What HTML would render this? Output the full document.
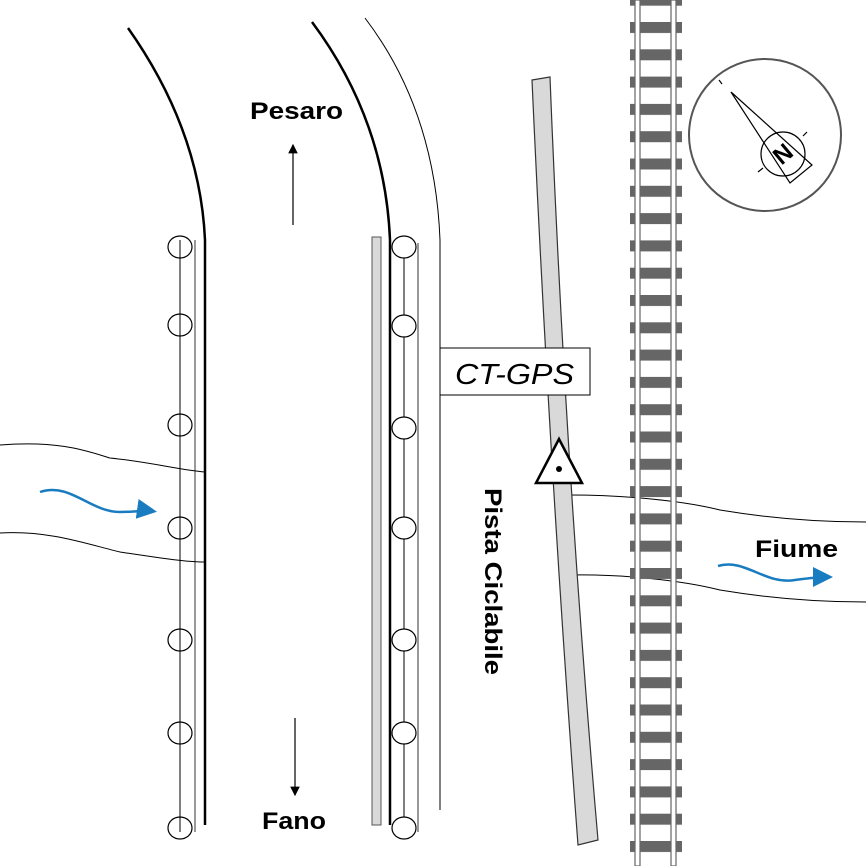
<!DOCTYPE html><html><head><style>body{margin:0;background:#fff}svg{display:block}text{font-family:"Liberation Sans",sans-serif}</style></head><body>
<svg width="866" height="866" viewBox="0 0 866 866" xmlns="http://www.w3.org/2000/svg">
<defs>
<marker id="ah" markerWidth="8" markerHeight="8" refX="7" refY="4" orient="auto"><path d="M0,0 L8,4 L0,8 z" fill="#000"/></marker>
<marker id="bh" markerWidth="8" markerHeight="8" refX="6" refY="4" orient="auto"><path d="M0,0 L8,4 L0,8 z" fill="#1a7cc0"/></marker>
<pattern id="ties" x="0" y="22" width="60" height="27.3" patternUnits="userSpaceOnUse"><rect x="0" y="0" width="60" height="11" fill="#666"/></pattern>
</defs>
<path d="M128,28 Q200,130 205,240 L205,825" fill="none" stroke="#000" stroke-width="2.5"/>
<line x1="180" y1="240" x2="180" y2="832" stroke="#000" stroke-width="1"/>
<line x1="195" y1="240" x2="195" y2="832" stroke="#333" stroke-width="1"/>
<g fill="none" stroke="#000" stroke-width="1.2">
<ellipse cx="180" cy="247" rx="12" ry="11"/><ellipse cx="180" cy="325" rx="12" ry="11"/><ellipse cx="180" cy="425" rx="12" ry="11"/><ellipse cx="180" cy="528" rx="12" ry="11"/><ellipse cx="180" cy="640" rx="12" ry="11"/><ellipse cx="180" cy="733" rx="12" ry="11"/><ellipse cx="180" cy="828" rx="12" ry="11"/>
</g>
<path d="M312,22 Q385,120 390,240 L390,825" fill="none" stroke="#000" stroke-width="2.5"/>
<path d="M365,18 Q435,110 440,240 L440,810" fill="none" stroke="#000" stroke-width="1"/>
<rect x="372" y="237" width="9" height="588" fill="#d9d9d9" stroke="#555" stroke-width="1"/>
<line x1="404" y1="245" x2="404" y2="832" stroke="#000"/>
<line x1="418" y1="243" x2="418" y2="832" stroke="#333"/>
<g fill="#fff" stroke="#000" stroke-width="1.2">
<ellipse cx="404" cy="247" rx="12" ry="11"/><ellipse cx="404" cy="326" rx="12" ry="11"/><ellipse cx="404" cy="428" rx="12" ry="11"/><ellipse cx="404" cy="528" rx="12" ry="11"/><ellipse cx="404" cy="640" rx="12" ry="11"/><ellipse cx="404" cy="733" rx="12" ry="11"/><ellipse cx="404" cy="828" rx="12" ry="11"/>
</g>
<path d="M0,445 C60,440 90,452 110,458 C150,462 180,470 205,472" fill="none" stroke="#000" stroke-width="1"/>
<path d="M0,533 C50,530 90,545 120,552 C160,558 185,562 205,562" fill="none" stroke="#000" stroke-width="1"/>
<path d="M570,495 C620,495 680,500 720,510 C780,520 830,522 866,522" fill="none" stroke="#000" stroke-width="1"/>
<path d="M570,575 C620,574 680,580 720,590 C780,600 830,602 866,602" fill="none" stroke="#000" stroke-width="1"/>
<path d="M40,492 C70,482 90,512 120,512 C135,512 145,510 152,511" fill="none" stroke="#1a7cc0" stroke-width="2.5" marker-end="url(#bh)"/>
<path d="M718,566 C745,558 765,585 795,580 C810,578 820,577 828,577" fill="none" stroke="#1a7cc0" stroke-width="2.5" marker-end="url(#bh)"/>
<path d="M532,80 L550,77 Q565,460 598,840 L578,845 Q549,460 532,80 Z" fill="#d9d9d9" stroke="#333" stroke-width="1.2"/>
<rect x="440" y="348" width="150" height="47" fill="#fff" stroke="#000" stroke-width="1"/>
<text x="455" y="384" font-size="29" font-style="italic" textLength="119" lengthAdjust="spacingAndGlyphs">CT-GPS</text>
<polygon points="559,439 536,483 582,483" fill="#fff" stroke="#000" stroke-width="2.5"/>
<circle cx="559" cy="469" r="3" fill="#000"/>
<rect x="630" y="0" width="52" height="866" fill="url(#ties)"/>
<rect x="635" y="0" width="5" height="866" fill="#fff" stroke="#666" stroke-width="1.2"/>
<rect x="671" y="0" width="5" height="866" fill="#fff" stroke="#666" stroke-width="1.2"/>
<circle cx="765" cy="135" r="76" fill="#fff" stroke="#555" stroke-width="2"/>
<g stroke="#000" stroke-width="1.2" fill="none">
<line x1="719" y1="80" x2="722" y2="84"/>
<polygon points="731,92 812,165 790,183"/>
<circle cx="783" cy="154" r="22"/>
<line x1="758" y1="172" x2="763" y2="168"/><line x1="803" y1="136" x2="807" y2="132"/>
</g>
<text x="783" y="162" font-size="24" font-weight="bold" text-anchor="middle" transform="rotate(-40 783 154)">N</text>
<text x="250" y="119" font-size="24" font-weight="bold" textLength="93" lengthAdjust="spacingAndGlyphs">Pesaro</text>
<line x1="293" y1="225" x2="293" y2="145" stroke="#000" stroke-width="1.2" marker-end="url(#ah)"/>
<text x="262" y="829" font-size="24" font-weight="bold" textLength="64" lengthAdjust="spacingAndGlyphs">Fano</text>
<line x1="295" y1="718" x2="295" y2="795" stroke="#000" stroke-width="1.2" marker-end="url(#ah)"/>
<text x="0" y="0" font-size="24" font-weight="bold" textLength="187" lengthAdjust="spacingAndGlyphs" transform="translate(485,488) rotate(90)">Pista Ciclabile</text>
<text x="755" y="557" font-size="24" font-weight="bold" textLength="83" lengthAdjust="spacingAndGlyphs">Fiume</text>
</svg></body></html>
